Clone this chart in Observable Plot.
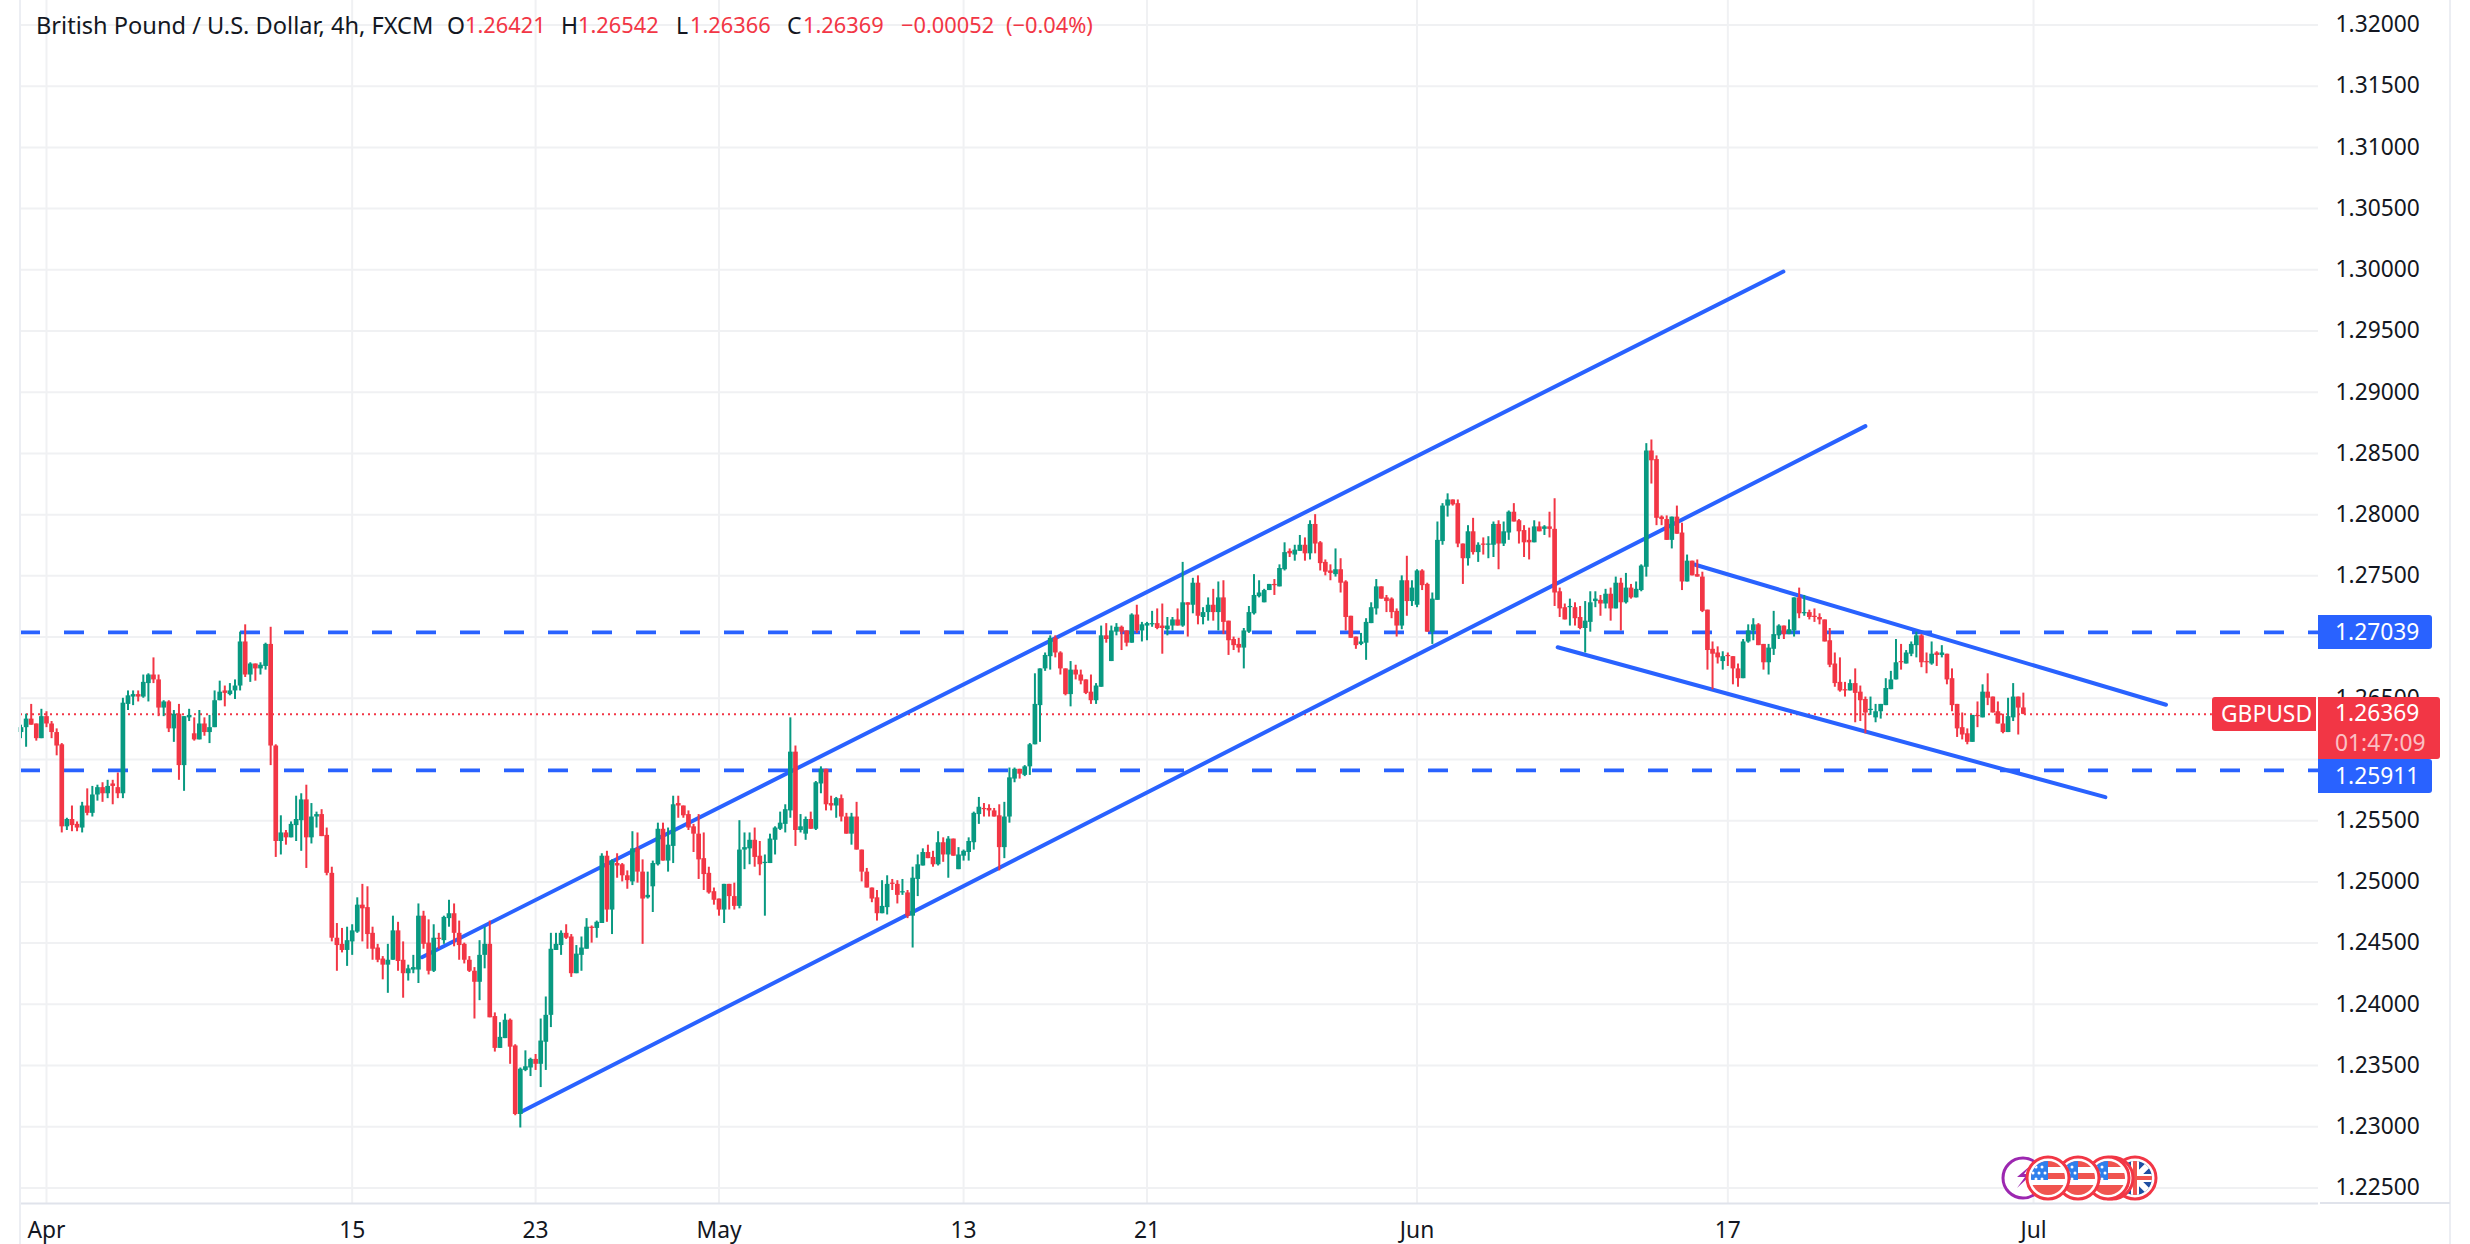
<!DOCTYPE html>
<html><head><meta charset="utf-8">
<script src="https://cdn.jsdelivr.net/npm/d3@7"></script>
<script src="https://cdn.jsdelivr.net/npm/@observablehq/plot@0.6"></script>
<style>
html,body{margin:0;padding:0;background:#fff;overflow:hidden}
#wrap{position:relative;width:2470px;height:1244px;font-family:"Noto Sans",sans-serif;color:#131722}
#wrap svg{display:block}
.ov{position:absolute;white-space:pre}
.tag{position:absolute;color:#fff;font-size:22.8px;line-height:34px;border-radius:0 3px 3px 0;padding-left:17px;box-sizing:border-box}
</style></head><body><div id="wrap"></div>
<script>
const opens=[
1.2622,1.2626,1.2633,1.2629,1.2617,1.2635,1.2629,1.2622,1.2612,1.2545,
1.2551,1.2547,1.2544,1.2562,1.2556,1.2571,1.2577,1.2572,1.2580,1.2577,
1.2572,1.2645,1.2651,1.2653,1.2651,1.2662,1.2669,1.2665,1.2642,1.2647,
1.2625,1.2637,1.2595,1.2634,1.2621,1.2616,1.2629,1.2622,1.2626,1.2648,
1.2656,1.2653,1.2656,1.2660,1.2696,1.2669,1.2678,1.2674,1.2676,1.2694,
1.2611,1.2533,1.2540,1.2536,1.2546,1.2550,1.2567,1.2536,1.2553,1.2555,
1.2538,1.2507,1.2454,1.2449,1.2444,1.2451,1.2459,1.2481,1.2479,1.2458,
1.2446,1.2437,1.2432,1.2436,1.2460,1.2436,1.2425,1.2428,1.2428,1.2472,
1.2450,1.2427,1.2454,1.2452,1.2470,1.2474,1.2458,1.2449,1.2436,1.2427,
1.2418,1.2440,1.2449,1.2390,1.2364,1.2372,1.2387,1.2366,1.2310,1.2346,
1.2348,1.2355,1.2351,1.2369,1.2391,1.2444,1.2448,1.2458,1.2455,1.2425,
1.2440,1.2445,1.2463,1.2462,1.2466,1.2521,1.2477,1.2515,1.2514,1.2505,
1.2500,1.2527,1.2508,1.2487,1.2496,1.2514,1.2543,1.2517,1.2529,1.2564,
1.2562,1.2555,1.2545,1.2539,1.2519,1.2507,1.2492,1.2486,1.2477,1.2498,
1.2488,1.2480,1.2526,1.2527,1.2534,1.2521,1.2515,1.2515,1.2534,1.2543,
1.2547,1.2558,1.2606,1.2542,1.2539,1.2551,1.2543,1.2580,1.2592,1.2564,
1.2562,1.2568,1.2553,1.2539,1.2553,1.2526,1.2508,1.2495,1.2487,1.2474,
1.2479,1.2499,1.2498,1.2491,1.2491,1.2472,1.2502,1.2513,1.2524,1.2520,
1.2514,1.2532,1.2522,1.2535,1.2510,1.2521,1.2524,1.2532,1.2555,1.2560,
1.2560,1.2558,1.2554,1.2528,1.2553,1.2584,1.2592,1.2587,1.2594,1.2612,
1.2644,1.2674,1.2684,1.2699,1.2687,1.2674,1.2653,1.2673,1.2669,1.2665,
1.2655,1.2648,1.2659,1.2701,1.2680,1.2704,1.2708,1.2705,1.2695,1.2718,
1.2705,1.2709,1.2710,1.2711,1.2709,1.2706,1.2709,1.2714,1.2709,1.2728,
1.2726,1.2744,1.2716,1.2720,1.2726,1.2720,1.2732,1.2713,1.2698,1.2694,
1.2691,1.2704,1.2719,1.2733,1.2728,1.2738,1.2743,1.2741,1.2755,1.2770,
1.2767,1.2770,1.2775,1.2768,1.2792,1.2777,1.2761,1.2754,1.2751,1.2755,
1.2745,1.2717,1.2700,1.2694,1.2695,1.2711,1.2723,1.2741,1.2732,1.2731,
1.2721,1.2709,1.2746,1.2729,1.2726,1.2754,1.2743,1.2704,1.2730,1.2778,
1.2807,1.2812,1.2809,1.2776,1.2764,1.2786,1.2769,1.2776,1.2775,1.2775,
1.2792,1.2776,1.2785,1.2802,1.2795,1.2787,1.2779,1.2777,1.2790,1.2788,
1.2790,1.2788,1.2737,1.2724,1.2724,1.2724,1.2716,1.2707,1.2712,1.2729,
1.2730,1.2727,1.2735,1.2723,1.2744,1.2728,1.2740,1.2732,1.2738,1.2757,
1.2852,1.2845,1.2798,1.2796,1.2779,1.2798,1.2785,1.2745,1.2762,1.2751,
1.2749,1.2722,1.2690,1.2687,1.2680,1.2685,1.2684,1.2674,1.2666,1.2696,
1.2705,1.2710,1.2694,1.2679,1.2690,1.2701,1.2709,1.2702,1.2705,1.2732,
1.2719,1.2720,1.2717,1.2716,1.2714,1.2697,1.2678,1.2663,1.2657,1.2656,
1.2662,1.2655,1.2649,1.2640,1.2634,1.2639,1.2644,1.2657,1.2665,1.2680,
1.2678,1.2686,1.2693,1.2701,1.2680,1.2678,1.2687,1.2685,1.2686,1.2666,
1.2645,1.2626,1.2621,1.2614,1.2636,1.2634,1.2655,1.2651,1.2639,1.2629,
1.2622,1.2634,1.2651,1.26421];
const closes=[
1.2626,1.2633,1.2628,1.2617,1.2635,1.2629,1.2622,1.2611,1.2545,1.2551,
1.2546,1.2544,1.2562,1.2556,1.2571,1.2577,1.2572,1.2578,1.2578,1.2572,
1.2646,1.2652,1.2653,1.2651,1.2663,1.2669,1.2665,1.2642,1.2647,1.2625,
1.2637,1.2595,1.2635,1.2636,1.2616,1.2629,1.2622,1.2626,1.2648,1.2655,
1.2654,1.2656,1.2660,1.2696,1.2669,1.2678,1.2674,1.2677,1.2694,1.2611,
1.2533,1.2540,1.2536,1.2547,1.2551,1.2567,1.2536,1.2553,1.2555,1.2537,
1.2507,1.2454,1.2448,1.2444,1.2452,1.2460,1.2481,1.2478,1.2457,1.2445,
1.2436,1.2432,1.2436,1.2460,1.2435,1.2425,1.2429,1.2430,1.2472,1.2449,
1.2427,1.2454,1.2453,1.2471,1.2474,1.2458,1.2448,1.2436,1.2427,1.2418,
1.2440,1.2449,1.2389,1.2364,1.2373,1.2387,1.2365,1.2310,1.2347,1.2349,
1.2355,1.2351,1.2370,1.2391,1.2445,1.2449,1.2458,1.2454,1.2425,1.2441,
1.2446,1.2463,1.2462,1.2467,1.2521,1.2477,1.2517,1.2513,1.2505,1.2501,
1.2527,1.2508,1.2486,1.2489,1.2515,1.2543,1.2517,1.2530,1.2563,1.2562,
1.2554,1.2544,1.2539,1.2518,1.2506,1.2491,1.2485,1.2477,1.2498,1.2488,
1.2480,1.2526,1.2528,1.2534,1.2520,1.2514,1.2516,1.2535,1.2544,1.2548,
1.2559,1.2606,1.2542,1.2545,1.2551,1.2543,1.2581,1.2592,1.2563,1.2562,
1.2568,1.2553,1.2539,1.2553,1.2526,1.2508,1.2495,1.2486,1.2474,1.2480,
1.2498,1.2498,1.2489,1.2492,1.2472,1.2503,1.2514,1.2524,1.2519,1.2514,
1.2532,1.2522,1.2535,1.2521,1.2522,1.2525,1.2533,1.2556,1.2561,1.2559,
1.2558,1.2553,1.2528,1.2553,1.2585,1.2592,1.2588,1.2594,1.2612,1.2645,
1.2674,1.2685,1.2699,1.2687,1.2674,1.2653,1.2673,1.2669,1.2664,1.2654,
1.2648,1.2660,1.2701,1.2698,1.2705,1.2708,1.2704,1.2695,1.2718,1.2705,
1.2710,1.2711,1.2711,1.2707,1.2707,1.2709,1.2714,1.2709,1.2728,1.2726,
1.2744,1.2717,1.2720,1.2726,1.2720,1.2732,1.2712,1.2697,1.2693,1.2691,
1.2705,1.2720,1.2734,1.2736,1.2738,1.2743,1.2742,1.2756,1.2769,1.2768,
1.2771,1.2775,1.2768,1.2792,1.2776,1.2760,1.2753,1.2752,1.2755,1.2744,
1.2716,1.2699,1.2693,1.2696,1.2712,1.2724,1.2741,1.2731,1.2729,1.2720,
1.2709,1.2746,1.2729,1.2740,1.2754,1.2742,1.2704,1.2731,1.2779,1.2807,
1.2812,1.2808,1.2776,1.2764,1.2786,1.2769,1.2775,1.2775,1.2776,1.2792,
1.2776,1.2786,1.2802,1.2794,1.2786,1.2777,1.2777,1.2790,1.2786,1.2790,
1.2788,1.2736,1.2723,1.2714,1.2725,1.2715,1.2707,1.2713,1.2728,1.2731,
1.2727,1.2735,1.2723,1.2744,1.2728,1.2740,1.2732,1.2739,1.2758,1.2852,
1.2844,1.2797,1.2796,1.2779,1.2798,1.2784,1.2745,1.2762,1.2750,1.2749,
1.2721,1.2689,1.2686,1.2683,1.2684,1.2684,1.2674,1.2666,1.2696,1.2705,
1.2710,1.2693,1.2679,1.2691,1.2702,1.2709,1.2702,1.2706,1.2732,1.2719,
1.2720,1.2716,1.2716,1.2714,1.2696,1.2677,1.2662,1.2656,1.2656,1.2662,
1.2654,1.2648,1.2638,1.2641,1.2639,1.2645,1.2658,1.2665,1.2679,1.2679,
1.2687,1.2694,1.2701,1.2679,1.2679,1.2686,1.2685,1.2687,1.2665,1.2644,
1.2625,1.2620,1.2614,1.2636,1.2635,1.2655,1.2650,1.2638,1.2629,1.2622,
1.2635,1.2651,1.2642,1.26369];
const highs=[
1.2628,1.2637,1.2645,1.2629,1.2641,1.2639,1.2631,1.2625,1.2613,1.2552,
1.2562,1.2549,1.2565,1.2576,1.2578,1.2579,1.2581,1.2583,1.2583,1.2589,
1.2650,1.2656,1.2656,1.2656,1.2669,1.2670,1.2683,1.2669,1.2648,1.2648,
1.2640,1.2645,1.2635,1.2641,1.2634,1.2640,1.2634,1.2636,1.2656,1.2664,
1.2660,1.2662,1.2665,1.2704,1.2710,1.2679,1.2678,1.2679,1.2695,1.2708,
1.2612,1.2554,1.2542,1.2549,1.2570,1.2572,1.2579,1.2564,1.2557,1.2559,
1.2544,1.2512,1.2466,1.2462,1.2463,1.2465,1.2487,1.2498,1.2496,1.2463,
1.2449,1.2439,1.2449,1.2472,1.2467,1.2451,1.2432,1.2440,1.2482,1.2476,
1.2469,1.2465,1.2458,1.2472,1.2485,1.2482,1.2468,1.2450,1.2439,1.2430,
1.2452,1.2463,1.2468,1.2393,1.2385,1.2392,1.2388,1.2367,1.2348,1.2362,
1.2356,1.2359,1.2388,1.2406,1.2458,1.2458,1.2460,1.2465,1.2457,1.2448,
1.2455,1.2470,1.2464,1.2468,1.2523,1.2525,1.2518,1.2523,1.2515,1.2509,
1.2541,1.2540,1.2518,1.2508,1.2517,1.2548,1.2548,1.2544,1.2570,1.2570,
1.2562,1.2558,1.2547,1.2555,1.2540,1.2512,1.2495,1.2486,1.2498,1.2498,
1.2499,1.2550,1.2540,1.2540,1.2544,1.2533,1.2522,1.2539,1.2545,1.2557,
1.2563,1.2634,1.2611,1.2555,1.2553,1.2557,1.2582,1.2594,1.2592,1.2570,
1.2569,1.2571,1.2556,1.2556,1.2565,1.2526,1.2511,1.2495,1.2493,1.2501,
1.2505,1.2502,1.2501,1.2502,1.2493,1.2512,1.2522,1.2527,1.2530,1.2525,
1.2541,1.2536,1.2537,1.2535,1.2528,1.2526,1.2536,1.2557,1.2569,1.2564,
1.2563,1.2560,1.2563,1.2565,1.2593,1.2593,1.2592,1.2595,1.2613,1.2670,
1.2674,1.2687,1.2701,1.2701,1.2688,1.2674,1.2680,1.2677,1.2673,1.2665,
1.2669,1.2662,1.2709,1.2711,1.2709,1.2711,1.2709,1.2705,1.2719,1.2726,
1.2712,1.2712,1.2721,1.2723,1.2727,1.2716,1.2716,1.2723,1.2761,1.2728,
1.2748,1.2750,1.2724,1.2732,1.2739,1.2745,1.2746,1.2713,1.2700,1.2699,
1.2707,1.2725,1.2751,1.2746,1.2739,1.2743,1.2747,1.2759,1.2777,1.2772,
1.2775,1.2783,1.2781,1.2795,1.2800,1.2778,1.2763,1.2759,1.2772,1.2764,
1.2746,1.2717,1.2700,1.2703,1.2715,1.2728,1.2747,1.2741,1.2734,1.2732,
1.2723,1.2750,1.2766,1.2746,1.2755,1.2755,1.2744,1.2736,1.2794,1.2809,
1.2817,1.2812,1.2812,1.2776,1.2791,1.2797,1.2777,1.2781,1.2782,1.2794,
1.2795,1.2794,1.2803,1.2809,1.2796,1.2791,1.2789,1.2795,1.2794,1.2791,
1.2802,1.2813,1.2740,1.2727,1.2731,1.2728,1.2725,1.2729,1.2737,1.2737,
1.2734,1.2739,1.2740,1.2749,1.2748,1.2752,1.2743,1.2745,1.2759,1.2858,
1.2861,1.2848,1.2799,1.2799,1.2798,1.2807,1.2793,1.2767,1.2762,1.2763,
1.2753,1.2722,1.2696,1.2692,1.2688,1.2687,1.2684,1.2678,1.2698,1.2710,
1.2715,1.2711,1.2694,1.2694,1.2721,1.2710,1.2709,1.2714,1.2732,1.2740,
1.2734,1.2722,1.2723,1.2719,1.2714,1.2707,1.2687,1.2683,1.2663,1.2665,
1.2674,1.2660,1.2651,1.2651,1.2645,1.2645,1.2666,1.2672,1.2698,1.2694,
1.2689,1.2696,1.2704,1.2702,1.2687,1.2696,1.2688,1.2693,1.2686,1.2674,
1.2645,1.2638,1.2625,1.2636,1.2647,1.2661,1.2670,1.2651,1.2647,1.2637,
1.2650,1.2662,1.2651,1.26542];
const lows=[
1.2617,1.2610,1.2628,1.2615,1.2617,1.2626,1.2617,1.2603,1.2540,1.2542,
1.2541,1.2541,1.2540,1.2554,1.2553,1.2566,1.2565,1.2568,1.2563,1.2568,
1.2568,1.2640,1.2644,1.2647,1.2650,1.2647,1.2662,1.2635,1.2635,1.2622,
1.2614,1.2583,1.2574,1.2631,1.2615,1.2616,1.2619,1.2613,1.2626,1.2648,
1.2643,1.2652,1.2649,1.2656,1.2667,1.2663,1.2664,1.2669,1.2673,1.2595,
1.2520,1.2522,1.2530,1.2536,1.2533,1.2525,1.2511,1.2531,1.2544,1.2537,
1.2505,1.2451,1.2427,1.2442,1.2431,1.2440,1.2458,1.2451,1.2445,1.2436,
1.2434,1.2420,1.2409,1.2436,1.2427,1.2405,1.2419,1.2425,1.2417,1.2445,
1.2424,1.2426,1.2445,1.2449,1.2463,1.2447,1.2436,1.2433,1.2426,1.2388,
1.2403,1.2429,1.2389,1.2361,1.2364,1.2372,1.2351,1.2309,1.2299,1.2345,
1.2341,1.2346,1.2332,1.2346,1.2381,1.2444,1.2440,1.2453,1.2422,1.2425,
1.2427,1.2445,1.2450,1.2454,1.2466,1.2467,1.2457,1.2503,1.2500,1.2494,
1.2497,1.2499,1.2449,1.2486,1.2475,1.2513,1.2517,1.2508,1.2515,1.2552,
1.2552,1.2542,1.2524,1.2502,1.2493,1.2490,1.2481,1.2472,1.2466,1.2477,
1.2477,1.2478,1.2510,1.2514,1.2512,1.2505,1.2472,1.2515,1.2522,1.2542,
1.2540,1.2552,1.2529,1.2540,1.2534,1.2543,1.2542,1.2572,1.2558,1.2558,
1.2552,1.2549,1.2539,1.2530,1.2526,1.2500,1.2495,1.2483,1.2468,1.2474,
1.2473,1.2493,1.2482,1.2489,1.2470,1.2446,1.2488,1.2513,1.2519,1.2512,
1.2513,1.2516,1.2503,1.2521,1.2510,1.2517,1.2517,1.2526,1.2547,1.2553,
1.2553,1.2553,1.2509,1.2519,1.2548,1.2581,1.2584,1.2586,1.2587,1.2612,
1.2614,1.2672,1.2673,1.2683,1.2669,1.2652,1.2643,1.2665,1.2661,1.2653,
1.2645,1.2645,1.2659,1.2695,1.2680,1.2701,1.2689,1.2692,1.2695,1.2703,
1.2696,1.2697,1.2708,1.2706,1.2686,1.2701,1.2705,1.2709,1.2708,1.2700,
1.2719,1.2710,1.2710,1.2713,1.2713,1.2705,1.2702,1.2685,1.2689,1.2687,
1.2674,1.2703,1.2718,1.2732,1.2728,1.2738,1.2734,1.2741,1.2754,1.2765,
1.2762,1.2770,1.2762,1.2763,1.2768,1.2754,1.2750,1.2746,1.2749,1.2736,
1.2705,1.2699,1.2690,1.2693,1.2681,1.2711,1.2718,1.2731,1.2720,1.2715,
1.2700,1.2706,1.2717,1.2725,1.2724,1.2738,1.2704,1.2694,1.2730,1.2775,
1.2798,1.2807,1.2773,1.2743,1.2758,1.2767,1.2761,1.2767,1.2764,1.2765,
1.2755,1.2774,1.2779,1.2794,1.2776,1.2765,1.2763,1.2777,1.2786,1.2783,
1.2781,1.2725,1.2716,1.2714,1.2709,1.2709,1.2706,1.2687,1.2704,1.2724,
1.2717,1.2723,1.2713,1.2723,1.2705,1.2727,1.2731,1.2732,1.2737,1.2749,
1.2825,1.2791,1.2791,1.2779,1.2772,1.2784,1.2738,1.2745,1.2750,1.2749,
1.2720,1.2673,1.2657,1.2678,1.2673,1.2676,1.2661,1.2659,1.2666,1.2695,
1.2697,1.2693,1.2673,1.2669,1.2685,1.2698,1.2698,1.2702,1.2700,1.2715,
1.2717,1.2714,1.2712,1.2710,1.2696,1.2675,1.2659,1.2655,1.2651,1.2656,
1.2630,1.2631,1.2621,1.2636,1.2630,1.2633,1.2644,1.2657,1.2665,1.2673,
1.2678,1.2684,1.2683,1.2675,1.2670,1.2677,1.2676,1.2683,1.2661,1.2639,
1.2618,1.2616,1.2612,1.2614,1.2626,1.2634,1.2644,1.2638,1.2629,1.2621,
1.2622,1.2631,1.2620,1.26366];

const xTickIndex=[5,65,101,137,185,221,274,335,395];
const xTickLabels=["Apr","15","23","May","13","21","Jun","17","Jul"];
const yGrid=[1.225,1.23,1.235,1.24,1.245,1.25,1.255,1.26,1.265,1.27,1.275,1.28,1.285,1.29,1.295,1.30,1.305,1.31,1.315,1.32];
const yLabels=[1.225,1.23,1.235,1.24,1.245,1.25,1.255,1.265,1.275,1.28,1.285,1.29,1.295,1.30,1.305,1.31,1.315,1.32];
const levels=[1.27039,1.25911];
const lastPrice=1.26369;
const channelUpper=[{i:78.7,p:1.24385},{i:345.9,p:1.29986}];
const channelLower=[{i:98.0,p:1.23119},{i:362.0,p:1.28723}];
const wedgeUpper=[{i:328.45,p:1.27593},{i:421.0,p:1.26447}];
const wedgeLower=[{i:301.6,p:1.26917},{i:409.1,p:1.25692}];
const xDomain=[-0.1,450.93];
const yDomain=[1.22373,1.32200];

const GREEN="#089981",RED="#f23645",BLUE="#2962ff",GRID="#f0f1f3";
const candles=opens.map((o,i)=>({i,o,c:closes[i],h:highs[i],l:lows[i],col:closes[i]>=o?GREEN:RED}));
const trend=[channelUpper,channelLower,wedgeUpper,wedgeLower];

const chart=Plot.plot({
  width:2470,height:1244,marginLeft:20,marginRight:152,marginTop:0,marginBottom:41,
  style:{fontFamily:'"Noto Sans",sans-serif',fontSize:"22.8px",color:"#131722",background:"#fff"},
  x:{type:"linear",domain:xDomain},
  y:{type:"linear",domain:yDomain},
  marks:[
    Plot.ruleY(yGrid,{stroke:GRID,strokeWidth:2}),
    Plot.ruleX(xTickIndex,{stroke:GRID,strokeWidth:2}),
    Plot.axisX({ticks:xTickIndex,tickFormat:d=>xTickLabels[xTickIndex.indexOf(d)],tickSize:0,tickPadding:18,label:null}),
    Plot.axisY({anchor:"right",ticks:yLabels,tickFormat:d=>d.toFixed(5),tickSize:0,tickPadding:17,textAnchor:"start",label:null}),
    Plot.ruleY(levels,{x1:xDomain[0],x2:xDomain[1],stroke:BLUE,strokeWidth:3.8,strokeDasharray:"20,24"}),
    Plot.ruleY([lastPrice],{x1:xDomain[0],x2:430.1,stroke:RED,strokeWidth:2,strokeDasharray:"2,4"}),
    ...trend.map(t=>Plot.line(t,{x:"i",y:"p",stroke:BLUE,strokeWidth:4,strokeLinecap:"round"})),
    Plot.ruleX(candles,{x:"i",y1:"l",y2:"h",stroke:"col",strokeWidth:2}),
    Plot.ruleX(candles,{x:"i",y1:"o",y2:"c",stroke:"col",strokeWidth:4.7}),
    Plot.ruleY([yDomain[0]],{stroke:"#e0e3eb",strokeWidth:2})
  ]
});
const wrap=document.getElementById("wrap");
wrap.appendChild(chart);
const yS=v=>chart.scale("y").apply(v);

function add(html,cls,css){const d=document.createElement("div");d.className=cls;d.style.cssText=css;d.innerHTML=html;wrap.appendChild(d);return d;}
// frame lines
add("","ov","left:19px;top:0;width:2px;height:1244px;background:#eceef3");
add("","ov","left:2449px;top:0;width:2px;height:1244px;background:#eceef3");
add("","ov","left:2320px;top:1202px;width:130px;height:2px;background:#e0e3eb");
// header
const headerSegments=[
 ["British Pound / U.S. Dollar, 4h, FXCM",36,23.6,"#131722"],
 ["O",447,23,"#131722"],["1.26421",465,21.8,RED],
 ["H",561,23,"#131722"],["1.26542",578,21.8,RED],
 ["L",676,23,"#131722"],["1.26366",690,21.8,RED],
 ["C",787,23,"#131722"],["1.26369",803,21.8,RED],
 ["−0.00052",901,21.8,RED],["(−0.04%)",1006,21.8,RED]
];
for(const [t,left,fs,col] of headerSegments) add(t,"ov",`left:${left}px;top:9px;font-size:${fs}px;line-height:32px;color:${col}`);
// price tags
add(levels[0].toFixed(5),"tag",`left:2318px;top:${yS(levels[0])-17}px;width:114px;height:34px;background:${BLUE}`);
add(levels[1].toFixed(5),"tag",`left:2318px;top:${yS(levels[1])-11}px;width:114px;height:34px;background:${BLUE}`);
add(`${lastPrice.toFixed(5)}<br><span style="color:rgba(255,255,255,.7)">01:47:09</span>`,"tag",`left:2318px;top:${yS(lastPrice)-17}px;width:122px;height:62px;background:${RED};line-height:30px;padding-top:1px`);
add("GBPUSD","tag",`left:2212px;top:${yS(lastPrice)-17}px;width:104px;height:34px;background:${RED};border-radius:3px 0 0 3px;padding-left:9px`);
// event icons
const stars=cx=>[[-12,-11],[-6,-11],[-15,-5],[-9,-5],[-3,-5],[-12,1],[-6,1]].map(([a,b])=>`<circle cx="${cx+a}" cy="${1178+b}" r="1.5" fill="#fff"/>`).join("");
const us=(cx,id)=>`<g><circle cx="${cx}" cy="1178" r="21" fill="#fff" stroke="${RED}" stroke-width="3"/><clipPath id="c${id}"><circle cx="${cx}" cy="1178" r="17"/></clipPath><g clip-path="url(#c${id})"><rect x="${cx-20}" y="1158" width="40" height="40" fill="#fff"/><rect x="${cx-20}" y="1158" width="40" height="9" fill="#f0544f"/><rect x="${cx-20}" y="1173" width="40" height="6" fill="#f0544f"/><rect x="${cx-20}" y="1185" width="40" height="14" fill="#f0544f"/><rect x="${cx-20}" y="1160" width="20" height="20" fill="#2f80ed"/>${stars(cx)}</g></g>`;
const svg=`<svg width="2470" height="1244" style="position:absolute;left:0;top:0;pointer-events:none">
<circle cx="2023" cy="1178" r="20" fill="#fff" stroke="#9c27b0" stroke-width="3"/>
<path d="M2030 1166l-13 11h8l-8 11 15-14h-8z" fill="#9c27b0"/>
<g><circle cx="2135" cy="1178" r="21" fill="#fff" stroke="${RED}" stroke-width="3"/><clipPath id="uk"><circle cx="2135" cy="1178" r="17"/></clipPath><g clip-path="url(#uk)"><rect x="2115" y="1158" width="40" height="40" fill="#1f4fa3"/><path d="M2115 1158l40 40M2155 1158l-40 40" stroke="#fff" stroke-width="6"/><path d="M2135 1158v40M2115 1178h40" stroke="#fff" stroke-width="8"/><path d="M2135 1158v40M2115 1178h40" stroke="#f0544f" stroke-width="4"/></g></g>
<circle cx="2112" cy="1178" r="21" fill="#fff" stroke="${RED}" stroke-width="3"/>
${us(2108,3)}${us(2078,2)}${us(2048,1)}
</svg>`;
add(svg,"ov","left:0;top:0;");
</script></body></html>
